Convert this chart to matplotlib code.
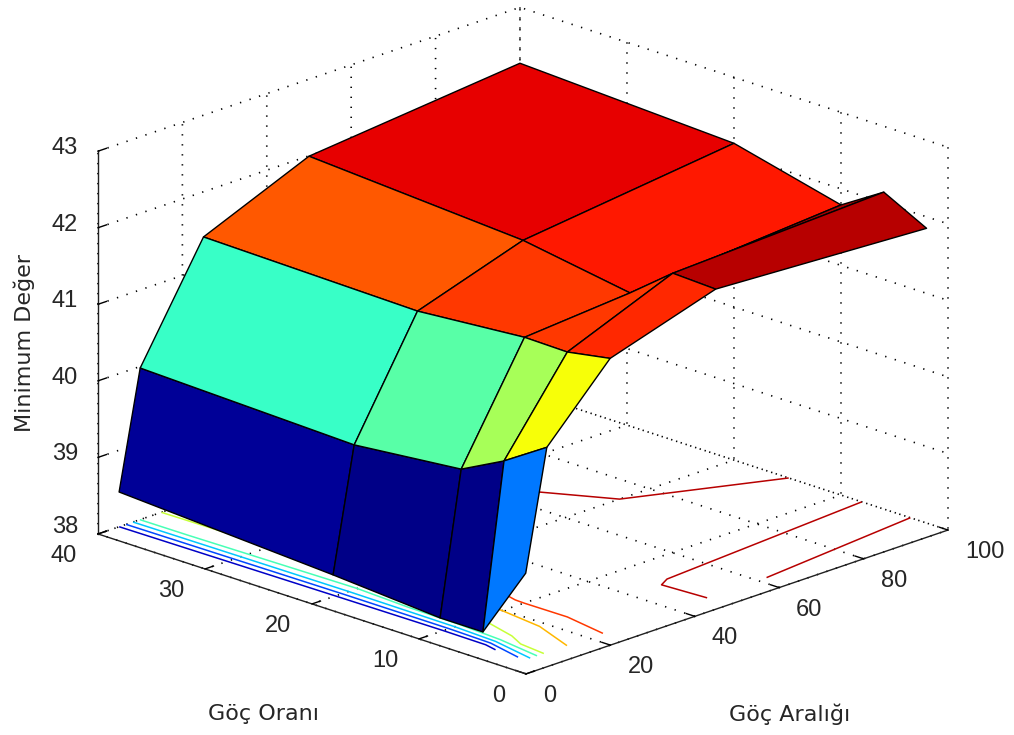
import numpy as np
import matplotlib
matplotlib.use('Agg')
import matplotlib.pyplot as plt
from matplotlib.colors import ListedColormap
from mpl_toolkits.mplot3d import proj3d

plt.rcParams['font.family'] = ['Liberation Sans', 'DejaVu Sans']

goc_araligi = [5, 10, 25, 50, 100]
goc_orani = [2, 6, 10, 20, 40]
# rows follow goc_orani, columns follow goc_araligi
min_deger = [
    [39.13, 40.68, 41.56, 41.995, 41.85],
    [38.18, 40.32, 41.46, 42.02, 42.14],
    [38.18, 40.03, 41.47, 41.58, 41.79],
    [38.285, 39.89, 41.355, 41.81, 42.138],
    [38.454, 39.98, 41.41, 41.995, 42.27],
]
oran_ticks = [0, 10, 20, 30, 40]
aralik_ticks = [0, 20, 40, 60, 80, 100]
deger_ticks = [38, 39, 40, 41, 42, 43]
contour_levels = [38.46, 38.96, 39.46, 39.96, 40.46, 40.96, 41.46, 41.96]
color_top = 42.2

X, Y = np.meshgrid(goc_araligi, goc_orani)
Z = np.array(min_deger)

# MATLAB's 64-step jet, which differs from matplotlib's
v = (np.arange(64) + 0.5) / 64
jet64 = ListedColormap(np.clip(np.column_stack([
    np.minimum(4 * v - 1.5, -4 * v + 4.5),
    np.minimum(4 * v - 0.5, -4 * v + 3.5),
    np.minimum(4 * v + 0.5, -4 * v + 2.5),
]), 0, 1))
norm = plt.Normalize(Z.min(), color_top)

fig = plt.figure(figsize=(10.14, 7.35), dpi=100)
ax = fig.add_axes([0.05, 0.05, 0.9, 0.9], projection='3d', proj_type='ortho')
ax.set_box_aspect((603, 599, 406))
ax.view_init(elev=19.5, azim=-135.6)
ax.set_xlim(0, 100)
ax.set_ylim(0, 40)
ax.set_zlim(38, 43)
ax.set_xticks(aralik_ticks)
ax.set_yticks(oran_ticks)
ax.set_zticks(deger_ticks)
ax.set_xticklabels([])
ax.set_yticklabels([])
ax.set_zticklabels([])

for axis in (ax.xaxis, ax.yaxis, ax.zaxis):
    axis.set_pane_color((1, 1, 1, 0))
    axis.pane.set_edgecolor((1, 1, 1, 0))
    axis.line.set_color('#202020')
    axis.line.set_linewidth(1.0)
    axis._axinfo['grid'].update(color='black', linewidth=1.2, linestyle=(0, (0.8, 5.2)))
    axis._axinfo['tick'].update(inward_factor=0.0, outward_factor=0.25, linewidth={True: 1.0, False: 1.0})

ax.plot_surface(X, Y, Z, facecolors=jet64(norm(Z)), shade=False, rstride=1, cstride=1,
                edgecolor='black', linewidth=1.0, antialiased=True)
ax.contour(X, Y, Z, levels=contour_levels, zdir='z', offset=38, cmap=jet64, norm=norm,
           linewidths=1.1)


def px(x, y, z):
    xs, ys, _ = proj3d.proj_transform(x, y, z, ax.get_proj())
    return ax.transData.transform((xs, ys))


# fit the plot box to the reference corners (pixels from the top-left)
target_left = np.array([98, 735 - 534])
target_right = np.array([948, 735 - 530])
for _ in range(3):
    fig.canvas.draw()
    a = px(0, 40, 38)
    b = px(100, 0, 38)
    s = (target_right[0] - target_left[0]) / (b[0] - a[0])
    p = ax.get_position()
    cx = (p.x0 + p.x1) / 2 * 1014
    cy = (p.y0 + p.y1) / 2 * 735
    mid = (a + b) / 2
    tmid = (target_left + target_right) / 2
    nx = tmid[0] + (cx - mid[0]) * s
    ny = tmid[1] + (cy - mid[1]) * s
    w = p.width * s
    h = p.height * s
    ax.set_position([nx / 1014 - w / 2, ny / 735 - h / 2, w, h])
fig.canvas.draw()


def label_at(point, dx, dy, text, ha):
    fig.text((point[0] + dx) / 1014, (point[1] - dy) / 735, text, fontsize=17,
             ha=ha, va='center', color='#262626')


for val in deger_ticks:
    label_at(px(0, 40, val), -20, -7 if val == 38 else -3, str(val), 'right')
for val in oran_ticks:
    label_at(px(0, val, 38), -21, 22, str(val), 'right')
for val in aralik_ticks:
    label_at(px(val, 0, 38), 17, 22, str(val), 'left')

title_font = ['DejaVu Sans']
fig.text(263 / 1014, 1 - 714 / 735, 'Göç Oranı', fontsize=16, ha='center', va='center',
         family=title_font, color='#262626')
fig.text(790 / 1014, 1 - 714 / 735, 'Göç Aralığı', fontsize=16, ha='center', va='center',
         family=title_font, color='#262626')
fig.text(24 / 1014, 1 - 343 / 735, 'Minimum Değer', fontsize=16, rotation=90, ha='center',
         va='center', family=title_font, color='#262626')

fig.savefig('out.png', dpi=100)
